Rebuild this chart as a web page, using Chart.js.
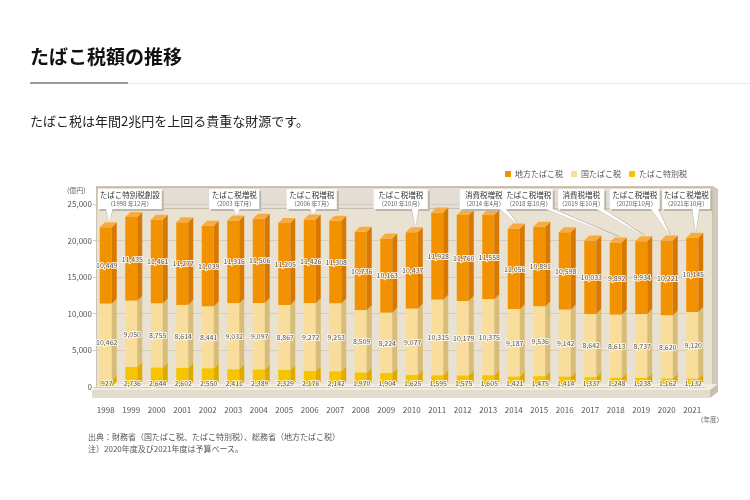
<!DOCTYPE html>
<html><head><meta charset="utf-8">
<script src="https://cdn.jsdelivr.net/npm/chart.js@4.4.1/dist/chart.umd.min.js"></script>
<style>
body{margin:0;background:#fff;font-family:"Noto Sans CJK JP","Noto Sans",sans-serif;}
#wrap{position:relative;width:750px;height:500px;overflow:hidden;background:#fff;}
canvas{position:absolute;left:0;top:0;}
.t{position:absolute;white-space:nowrap;color:#222;}
</style></head><body>
<div id="wrap">
<canvas id="c" width="750" height="500"></canvas>
<div class="t" style="left:30px;top:43px;font-size:19px;font-weight:700;color:#111;line-height:26px">たばこ税額の推移</div>
<div style="position:absolute;left:30px;top:83px;width:720px;height:1px;background:#eaeaea"></div>
<div style="position:absolute;left:30px;top:82px;width:98px;height:2px;background:#9a9a9a"></div>
<div class="t" style="left:30px;top:112px;font-size:13px;line-height:18px">たばこ税は年間2兆円を上回る貴重な財源です。</div>
<div class="t" style="left:88px;top:431px;font-size:8px;color:#555;line-height:12px">出典：財務省（国たばこ税、たばこ特別税）、総務省（地方たばこ税）<br>注）2020年度及び2021年度は予算ベース。</div>
<div class="t" style="left:67px;top:186px;font-size:7px;color:#666;line-height:9px">(億円)</div>
<div class="t" style="left:697px;top:415px;font-size:6.5px;color:#666;line-height:9px">（年度）</div>
</div>
<script>
const years = ['1998','1999','2000','2001','2002','2003','2004','2005','2006','2007','2008','2009','2010','2011','2012','2013','2014','2015','2016','2017','2018','2019','2020','2021'];
const localTax = [10449,11435,11461,11277,11039,11316,11506,11205,11426,11308,10736,10163,10437,11928,11760,11558,11056,10891,10598,10033,9892,9934,10221,10145];
const nationalTax = [10462,9050,8755,8614,8441,9032,9097,8867,9272,9253,8509,8224,9077,10315,10179,10375,9187,9536,9142,8642,8613,8737,8620,9120];
const specialTax = [927,2736,2644,2602,2550,2411,2389,2329,2176,2142,1970,1904,1625,1595,1575,1605,1421,1475,1414,1337,1248,1238,1162,1132];
const seriesNames = ['たばこ特別税','国たばこ税','地方たばこ税'];
const annoYears = ['1998','2003','2006','2010','2014','2018','2019','2020','2021'];
const annoTitles = ['たばこ特別税創設','たばこ税増税','たばこ税増税','たばこ税増税','消費税増税','たばこ税増税','消費税増税','たばこ税増税','たばこ税増税'];
const annoDates = ['（1998 年12月）','（2003 年7月）','（2006 年7月）','（2010 年10月）','（2014 年4月）','（2018 年10月）','（2019 年10月）','（2020年10月）','（2021年10月）'];

// style / layout (not data)
const FONT = '"Noto Sans CJK JP","Noto Sans",sans-serif';
const DEPTH = 5;
const frontColors = ['#F8C400','#F8DD9B','#F39200'];
const sideColors = ['#E0A900','#D8BC7A','#D87800'];
const topColors = ['#FBD54A','#FBE9BC','#F8AC40'];
const annoShift = [24,1,2,-11,-30,-87,-60,-32,-6];
const annoWidth = [64,50,50,54,48,48,46,50,48];

const fmt = v => v.toLocaleString('en-US');

const deco = {
  id:'deco',
  beforeLayout(chart){
    const lg = chart.legend;
    if(lg && !lg._patched){
      const f = lg.fit, d = lg.draw;
      lg.fit = function(){ f.call(this); this.height = 42; };
      lg.draw = function(){ const c=this.ctx; c.save(); c.translate(-10,0); d.call(this); c.restore(); };
      lg._patched = true;
    }
  },
  beforeDraw(chart){
    const {ctx, chartArea:a} = chart;
    const L = a.left+3, R = a.right+8, T = 186, B = a.bottom;
    ctx.save();
    ctx.fillStyle = '#E9E2D2';
    ctx.fillRect(L, T, R-L, B-T);
    ctx.fillStyle = '#D2CABA';
    ctx.beginPath(); ctx.moveTo(R,T); ctx.lineTo(R+5,T+3); ctx.lineTo(R+5,B+2); ctx.lineTo(R,B); ctx.closePath(); ctx.fill();
    ctx.strokeStyle = '#CCC3B1'; ctx.lineWidth = 1;
    ctx.strokeRect(L+0.5, T+0.5, R-L-1, B-T);
    ctx.fillStyle = '#E3DED5';
    ctx.fillRect(L+1, T+1, R-L-2, 22);
    ctx.strokeStyle = '#C4BDB0';
    ctx.strokeRect(L+1.5, T+1.5, R-L-3, 21);
    ctx.fillStyle = '#F1ECE2';
    ctx.beginPath(); ctx.moveTo(L-4,B+3); ctx.lineTo(R-3,B+3); ctx.lineTo(R+5,B-3); ctx.lineTo(L+4,B-3); ctx.closePath(); ctx.fill();
    ctx.fillStyle = '#E3DBCB';
    ctx.fillRect(L-4, B+3, R-L+1, 8);
    ctx.fillStyle = '#C8BFAE';
    ctx.beginPath(); ctx.moveTo(R-3,B+3); ctx.lineTo(R+5,B-3); ctx.lineTo(R+5,B+5); ctx.lineTo(R-3,B+11); ctx.closePath(); ctx.fill();
    ctx.restore();
  },
  afterDatasetsDraw(chart){
    const ctx = chart.ctx;
    const ys = chart.scales.y;
    ctx.save();
    const n = chart.data.datasets.length;
    chart.data.datasets.forEach((ds, di) => {
      const meta = chart.getDatasetMeta(di);
      meta.data.forEach(bar => {
        const w = bar.width, x1 = bar.x + w/2, x0 = bar.x - w/2;
        const top = Math.min(bar.y, bar.base), bot = Math.max(bar.y, bar.base);
        ctx.fillStyle = sideColors[di];
        ctx.beginPath(); ctx.moveTo(x1, top); ctx.lineTo(x1+DEPTH, top-DEPTH); ctx.lineTo(x1+DEPTH, bot-DEPTH); ctx.lineTo(x1, bot); ctx.closePath(); ctx.fill();
        if(di === n-1){
          ctx.fillStyle = topColors[di];
          ctx.beginPath(); ctx.moveTo(x0, top); ctx.lineTo(x0+DEPTH, top-DEPTH); ctx.lineTo(x1+DEPTH, top-DEPTH); ctx.lineTo(x1, top); ctx.closePath(); ctx.fill();
        }
      });
    });
    ctx.font = '7px ' + FONT;
    ctx.textAlign = 'center'; ctx.textBaseline = 'middle';
    ctx.lineJoin = 'round';
    chart.data.datasets.forEach((ds, di) => {
      const meta = chart.getDatasetMeta(di);
      meta.data.forEach((bar, i) => {
        const v = ds.data[i];
        let y = di === 0 ? ys.getPixelForValue(0) - 4 : (bar.y + bar.base)/2;
        const s = fmt(v);
        ctx.strokeStyle = 'rgba(255,255,255,0.85)'; ctx.lineWidth = 2;
        ctx.strokeText(s, bar.x + 1, y);
        ctx.fillStyle = '#555';
        ctx.fillText(s, bar.x + 1, y);
      });
    });
    ctx.restore();
  },
  afterDraw(chart){
    const ctx = chart.ctx;
    const xs = chart.scales.x;
    const topMeta = chart.getDatasetMeta(chart.data.datasets.length-1);
    ctx.save();
    const bT = 189, bB = 209;
    annoYears.forEach((yr, k) => {
      const idx = years.indexOf(yr);
      const bar = topMeta.data[idx];
      const cx = xs.getPixelForValue(idx) + annoShift[k];
      const w = annoWidth[k];
      const l = cx - w/2, r = cx + w/2;
      const tipX = bar.x + DEPTH/2 + 1, tipY = bar.y - DEPTH - 1;
      const bx = Math.max(l+6, Math.min(r-6, tipX));
      ctx.fillStyle = '#FFFFFF';
      ctx.strokeStyle = '#C2BCB2'; ctx.lineWidth = 1;
      ctx.beginPath(); ctx.moveTo(bx-4, bB-1); ctx.lineTo(tipX, tipY); ctx.lineTo(bx+4, bB-1); ctx.closePath(); ctx.fill(); ctx.stroke();
      ctx.fillStyle = '#BDB6AA';
      ctx.fillRect(l+2, bT+2, w, bB-bT);
      ctx.fillStyle = '#FFFFFF';
      ctx.fillRect(l, bT, w, bB-bT);
      ctx.beginPath(); ctx.moveTo(bx-3.5, bB-1); ctx.lineTo(tipX, tipY+1); ctx.lineTo(bx+3.5, bB-1); ctx.closePath(); ctx.fill();
      ctx.textAlign = 'center'; ctx.textBaseline = 'middle';
      ctx.fillStyle = '#333';
      ctx.font = '7.5px ' + FONT;
      ctx.fillText(annoTitles[k], cx, bT+6);
      ctx.fillStyle = '#666';
      ctx.font = '6px ' + FONT;
      ctx.fillText(annoDates[k], cx, bT+14.5);
    });
    ctx.restore();
  }
};

new Chart(document.getElementById('c'), {
  type:'bar',
  data:{
    labels: years,
    datasets:[
      {label: seriesNames[0], data: specialTax, backgroundColor: frontColors[0]},
      {label: seriesNames[1], data: nationalTax, backgroundColor: frontColors[1]},
      {label: seriesNames[2], data: localTax, backgroundColor: frontColors[2]}
    ]
  },
  options:{
    responsive:false,
    animation:false,
    layout:{padding:{left:53, right:45, top:162, bottom:78}},
    datasets:{bar:{categoryPercentage:1, barPercentage:0.47, borderWidth:0}},
    plugins:{
      legend:{
        position:'top', align:'end', reverse:true,
        labels:{boxWidth:6, boxHeight:6, padding:8, color:'#555', font:{size:8, family:FONT}}
      },
      tooltip:{enabled:false}
    },
    scales:{
      x:{
        stacked:true,
        afterFit(s){ s.height = 35; },
        grid:{display:false},
        border:{display:false},
        ticks:{autoSkip:false, maxRotation:0, padding:10, color:'#555', font:{size:8, family:FONT}}
      },
      y:{
        stacked:true, min:0, max:25000,
        afterFit(s){ s.width = 40; },
        grid:{color:'#D6CCB8', drawTicks:false, lineWidth:1},
        border:{display:false},
        ticks:{stepSize:5000, padding:1, color:'#555', font:{size:8, family:FONT}, callback:v => fmt(v)}
      }
    }
  },
  plugins:[deco]
});
</script>
</body></html>
